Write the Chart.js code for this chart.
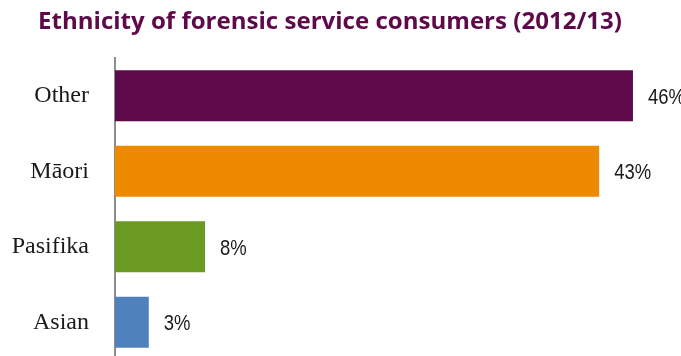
<!DOCTYPE html>
<html>
<head>
<meta charset="utf-8">
<script src="https://cdn.jsdelivr.net/npm/chart.js@4/dist/chart.umd.min.js"></script>
<style>
  html, body { margin: 0; padding: 0; background: #fff; overflow: hidden; }
  #ethnicityChart { position: absolute; left: 0; top: 0; }
</style>
</head>
<body>
<canvas id="ethnicityChart" width="681" height="364"></canvas>
<script>
// --- Data ---
const titleText = 'Ethnicity of forensic service consumers (2012/13)';
const categories = ['Other', 'Māori', 'Pasifika', 'Asian'];
const shares = [46, 43, 8, 3];
const barColors = ['#5E0A4A', '#EE8A00', '#6A9A22', '#4F81BD'];

const TITLE_COLOR = '#5E0A4A';
const TEXT_COLOR = '#1a1a1a';

// Title drawn straight onto the canvas, left aligned
const titlePlugin = {
    id: 'leftTitle',
    afterDraw(chart) {
        const ctx = chart.ctx;
        ctx.save();
        ctx.font = 'bold 24px "Open Sans", "DejaVu Sans", sans-serif';
        ctx.fillStyle = TITLE_COLOR;
        ctx.textAlign = 'left';
        ctx.textBaseline = 'alphabetic';
        // squeeze/stretch the line so it spans 584px
        const w = ctx.measureText(titleText).width;
        ctx.translate(38, 29);
        ctx.scale(584 / w, 1);
        ctx.fillText(titleText, 0, 0);
        ctx.restore();
    }
};

// Percent labels just past the end of each bar (narrowed sans)
const valueLabels = {
    id: 'valueLabels',
    afterDatasetsDraw(chart) {
        const ctx = chart.ctx;
        const meta = chart.getDatasetMeta(0);
        ctx.save();
        ctx.font = '22px "Liberation Sans", Arial, sans-serif';
        ctx.fillStyle = TEXT_COLOR;
        ctx.textAlign = 'left';
        ctx.textBaseline = 'alphabetic';
        meta.data.forEach((bar, i) => {
            ctx.save();
            ctx.translate(bar.x + 15, bar.y + 8);
            ctx.scale(0.84, 1);
            ctx.fillText(shares[i] + '%', 0, 0);
            ctx.restore();
        });
        ctx.restore();
    }
};

const ctx = document.getElementById('ethnicityChart').getContext('2d');
new Chart(ctx, {
    type: 'bar',
    data: {
        labels: categories,
        datasets: [{
            data: shares,
            backgroundColor: barColors,
            borderWidth: 0,
            barPercentage: 0.674,
            categoryPercentage: 1
        }]
    },
    options: {
        indexAxis: 'y',
        responsive: false,
        animation: false,
        layout: { padding: { top: 58, bottom: 4, left: 0, right: 3 } },
        scales: {
            x: {
                display: false,
                min: 0,
                max: 50
            },
            y: {
                grid: { display: false, drawTicks: false },
                border: { display: true, color: '#8c8c8c', width: 2 },
                ticks: {
                    color: TEXT_COLOR,
                    padding: 26,
                    font: { family: '"Liberation Serif", "Times New Roman", serif', size: 24 }
                },
                afterFit(scale) {
                    scale.width = 115;
                    // labels sit beside the bars, no extra room above/below
                    scale.paddingTop = 0;
                    scale.paddingBottom = 0;
                }
            }
        },
        plugins: {
            legend: { display: false },
            tooltip: { enabled: false }
        }
    },
    plugins: [titlePlugin, valueLabels]
});
</script>
</body>
</html>
